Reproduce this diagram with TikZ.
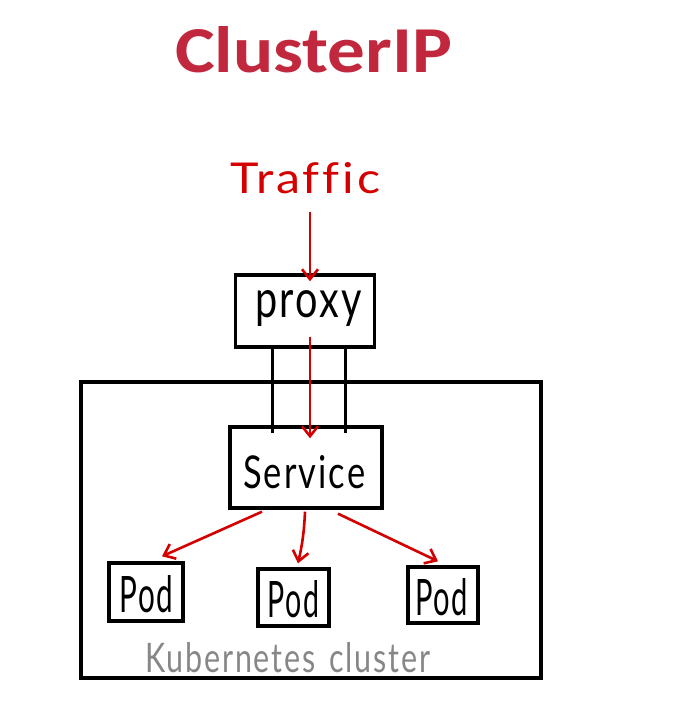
\documentclass[tikz,border=0pt]{standalone}
\usepackage{fontspec}
\setmainfont[LetterSpace=6,Ligatures=NoCommon]{Lato}
\newfontfamily\titlefont{Carlito}
\usetikzlibrary{arrows.meta}
\definecolor{titlered}{RGB}{193,40,62}
\definecolor{inkred}{RGB}{212,0,0}
\definecolor{inkgray}{RGB}{135,135,135}
\tikzset{
  box/.style={draw=black, line width=3.4pt, rectangle, inner sep=0pt},
  redarrow/.style={draw=inkred, line width=2.6pt, -{Straight Barb[length=10pt,width=16pt]}},
  wire/.style={draw=black, line width=3pt},
  hand/.style={inner sep=0pt, anchor=base west},
}
\begin{document}
\begin{tikzpicture}[x=1pt,y=-1pt]
\useasboundingbox (0,0) rectangle (698,705);
% title
\node[hand, text=titlered] (title) at (175,72) {\resizebox{277pt}{46pt}{\titlefont\bfseries ClusterIP}};
% traffic
\node[hand, text=inkred] (traffic) at (230,193) {\resizebox{150pt}{31pt}{Traffic}};
% boxes
\node[box, minimum width=139pt, minimum height=72pt] (proxy) at (305,311) {};
\node[box, minimum width=460pt, minimum height=296pt] (cluster) at (311,530) {};
\node[box, fill=white, minimum width=152pt, minimum height=81pt] (service) at (306,467.5) {};
\node[box, minimum width=74pt, minimum height=58pt] (pod1) at (146,592) {};
\node[box, minimum width=71pt, minimum height=57pt] (pod2) at (293.5,597.5) {};
\node[box, minimum width=70pt, minimum height=56pt] (pod3) at (443,595) {};
% texts
\node[hand] (proxyt) at (255,317) {\resizebox{107pt}{27pt}{proxy}};
\node[hand] (servicet) at (243,488) {\resizebox{122pt}{33pt}{Service}};
\node[hand] (pod1t) at (119,612) {\resizebox{54pt}{37pt}{Pod}};
\node[hand] (pod2t) at (267,617) {\resizebox{52pt}{37pt}{Pod}};
\node[hand] (pod3t) at (415,615) {\resizebox{53pt}{37pt}{Pod}};
\node[hand, text=inkgray] (clustert) at (145,672) {\resizebox{285pt}{30pt}{Kubernetes\hspace{0.45em}cluster}};
% wires proxy -> service
\draw[wire, shorten >=-8pt] ([xshift=-33pt]proxy.south) -- ([xshift=-34pt]service.north);
\draw[wire, shorten >=-8pt] ([xshift=40pt]proxy.south) -- ([xshift=39pt]service.north);
% red arrows
\draw[redarrow, shorten >=-8pt] ([xshift=80pt,yshift=-19pt]traffic.base west) -- ([xshift=5pt]proxy.north);
\draw[redarrow, shorten <=-12pt, shorten >=-13pt] ([xshift=5pt]proxy.south) -- ([xshift=4pt]service.north);
\draw[redarrow] ([xshift=-44pt,yshift=-2pt]service.south) -- ([xshift=16pt,yshift=5pt]pod1.north);
\draw[redarrow] ([xshift=-1pt,yshift=-2pt]service.south) to[bend left=5] ([xshift=4.5pt,yshift=4pt]pod2.north);
\draw[redarrow] ([xshift=32pt,yshift=-4pt]service.south) -- ([xshift=-5pt,yshift=4pt]pod3.north);
\end{tikzpicture}
\end{document}
